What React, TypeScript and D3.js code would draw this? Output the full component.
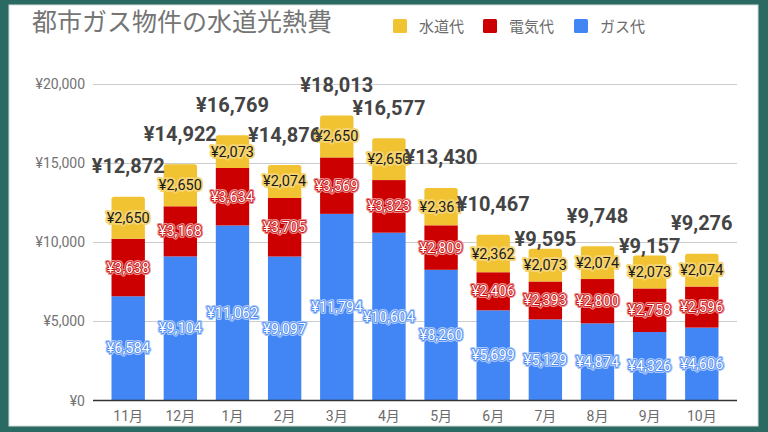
import React from "react";
import * as d3 from "d3";

const months = ["11月", "12月", "1月", "2月", "3月", "4月", "5月", "6月", "7月", "8月", "9月", "10月"];
const gas = [6584, 9104, 11062, 9097, 11794, 10604, 8260, 5699, 5129, 4874, 4326, 4606];
const electricity = [3638, 3168, 3634, 3705, 3569, 3323, 2809, 2406, 2393, 2800, 2758, 2596];
const water = [2650, 2650, 2073, 2074, 2650, 2650, 2361, 2362, 2073, 2074, 2073, 2074];
const yTicks = [0, 5000, 10000, 15000, 20000];
const seriesNames = ["水道代", "電気代", "ガス代"];
const title = "都市ガス物件の水道光熱費";

const W = 768;
const H = 432;
const FONT = "Roboto, 'Noto Sans CJK JP', sans-serif";
const COLORS = { water: "#f1c232", elec: "#cc0000", gas: "#4285f4" };

const yen = (v: number) => "¥" + d3.format(",")(v);
const tint = (c: string, t: number) => d3.interpolateRgb(c, "#ffffff")(t);

export default function App() {
  const x = d3.scaleBand<string>().domain(months).range([93, 737]).paddingInner(0.36).paddingOuter(0.355);
  const y = d3.scaleLinear().domain([0, 20000]).range([400.5, 84]);

  const rows = months.map((m, i) => ({
    m,
    segs: [
      { key: "gas", v: gas[i], y0: 0, y1: gas[i], color: COLORS.gas, text: "#ffffff" },
      { key: "elec", v: electricity[i], y0: gas[i], y1: gas[i] + electricity[i], color: COLORS.elec, text: "#ffffff" },
      {
        key: "water",
        v: water[i],
        y0: gas[i] + electricity[i],
        y1: gas[i] + electricity[i] + water[i],
        color: COLORS.water,
        text: "#1a1a1a",
      },
    ],
    total: gas[i] + electricity[i] + water[i],
  }));

  type Box = { cx: number; cy: number; w: number; h: number };
  const placed: Box[] = [];
  const totalLabels = rows.map((r) => {
    const s = yen(r.total);
    const digits = s.replace(/[^0-9]/g, "").length;
    const commas = (s.match(/,/g) || []).length;
    const w = digits * 10.9 + commas * 4.6 + 11;
    const h = 15;
    const cx = (x(r.m) as number) + x.bandwidth() / 2;
    const top = y(r.total);
    let cy = top - 31;
    const overlaps = (b: Box) =>
      placed.some((p) => Math.abs(p.cx - b.cx) < (p.w + b.w) / 2 && Math.abs(p.cy - b.cy) < (p.h + b.h) / 2);
    if (overlaps({ cx, cy, w, h })) cy = top - 10.5;
    const box = { cx, cy, w, h };
    placed.push(box);
    return { s, cx, cy };
  });

  const legend = [
    { name: seriesNames[0], color: COLORS.water, x: 393 },
    { name: seriesNames[1], color: COLORS.elec, x: 483 },
    { name: seriesNames[2], color: COLORS.gas, x: 574 },
  ];

  return (
    <svg width={W} height={H} style={{ position: "fixed", left: 0, top: 0, display: "block" }} fontFamily={FONT}>
      <rect x={0} y={0} width={W} height={H} fill="#2b6a62" />
      <rect x={9} y={5} width={749} height={421} fill="#ffffff" stroke="#d8dcdc" strokeWidth={1} />

      <text x={32} y={31} fontSize={25} fill="#757575">
        {title}
      </text>

      {legend.map((l) => (
        <g key={l.name}>
          <rect x={l.x} y={19} width={14} height={14} rx={1.5} fill={l.color} />
          <text x={l.x + 26} y={31.5} fontSize={15} fill="#6b6b6b">
            {l.name}
          </text>
        </g>
      ))}

      {yTicks.map((t) => (
        <g key={t}>
          {t !== 0 && (
            <line x1={93} x2={737} y1={Math.round(y(t)) + 0.5} y2={Math.round(y(t)) + 0.5} stroke="#cccccc" strokeWidth={1} />
          )}
          <text x={85} y={y(t) + 5} fontSize={14} fill="#737373" textAnchor="end">
            {yen(t)}
          </text>
        </g>
      ))}

      {rows.map((r) => {
        const bx = x(r.m) as number;
        const bw = x.bandwidth();
        return (
          <g key={r.m}>
            {r.segs.map((s, si) => {
              const yt = y(s.y1);
              const yb = y(s.y0);
              if (si === 2) {
                const rr = 2.5;
                const d = `M${bx},${yb} L${bx},${yt + rr} Q${bx},${yt} ${bx + rr},${yt} L${bx + bw - rr},${yt} Q${bx + bw},${yt} ${bx + bw},${yt + rr} L${bx + bw},${yb} Z`;
                return <path key={s.key} d={d} fill={s.color} />;
              }
              return <rect key={s.key} x={bx} y={yt} width={bw} height={yb - yt} fill={s.color} />;
            })}
          </g>
        );
      })}

      <line x1={93} x2={737} y1={400.5} y2={400.5} stroke="#333333" strokeWidth={1.5} />

      {rows.map((r) =>
        r.segs.map((s) => {
          const cx = (x(r.m) as number) + x.bandwidth() / 2;
          const cy = (y(s.y0) + y(s.y1)) / 2;
          const label = yen(s.v);
          const isWater = s.key === "water";
          return (
            <g key={r.m + s.key} fontSize={14.5} textAnchor="middle">
              <text
                x={cx}
                y={cy + 5}
                fill="none"
                stroke={tint(s.color, isWater ? 0.3 : 0.55)}
                strokeWidth={4}
                strokeLinejoin="round"
              >
                {label}
              </text>
              {!isWater && (
                <text x={cx} y={cy + 5} fill="none" stroke={s.color} strokeWidth={1.6} strokeLinejoin="round">
                  {label}
                </text>
              )}
              <text x={cx} y={cy + 5} fill={s.text}>
                {label}
              </text>
            </g>
          );
        })
      )}

      {totalLabels.map((t, i) => (
        <text key={i} x={t.cx} y={t.cy + 7.5} fontSize={20} fontWeight="bold" fill="#444444" textAnchor="middle">
          {t.s}
        </text>
      ))}

      {months.map((m) => (
        <text key={m} x={(x(m) as number) + x.bandwidth() / 2} y={421} fontSize={14} fill="#6b6b6b" textAnchor="middle">
          {m}
        </text>
      ))}
    </svg>
  );
}
